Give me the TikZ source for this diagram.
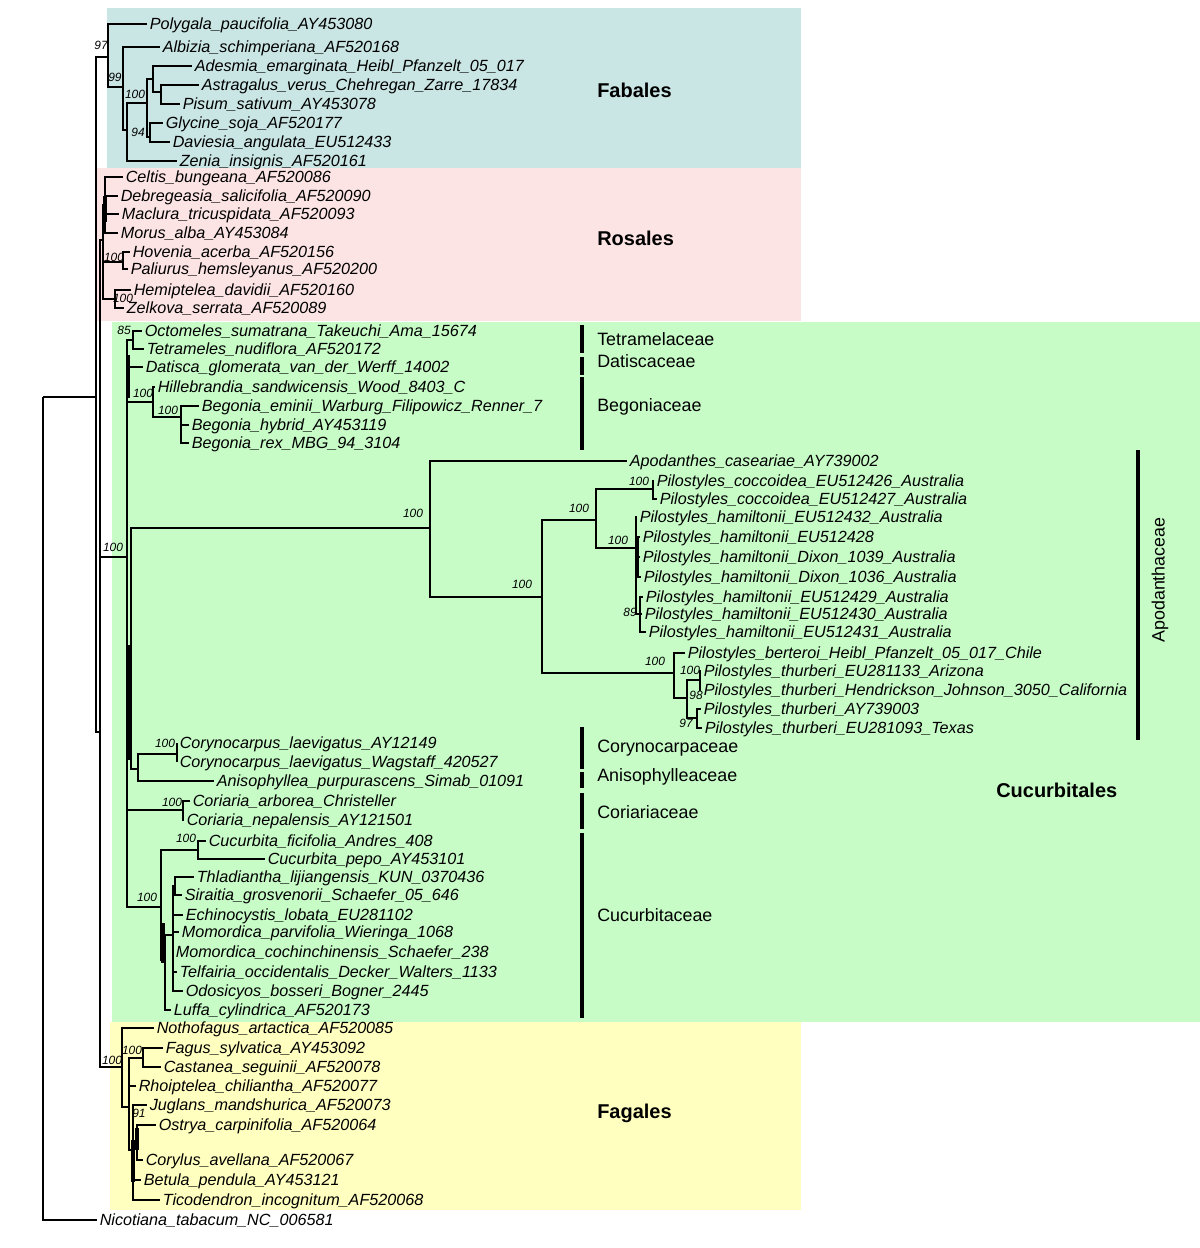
\documentclass[tikz,border=0pt]{standalone}
\usepackage{fontspec}
\setmainfont{Liberation Sans}
\usepackage{tikz}
\definecolor{fabcol}{RGB}{201,229,228}
\definecolor{roscol}{RGB}{253,228,228}
\definecolor{cuccol}{RGB}{199,252,199}
\definecolor{fagcol}{RGB}{255,255,191}
\tikzset{
  branch/.style={line width=1.6pt},
  taxon/.style={anchor=west, inner xsep=0pt, inner ysep=0pt, outer xsep=2pt,
                text height=8pt, text depth=0pt,
                font=\fontsize{11.5}{13}\selectfont\itshape},
  support/.style={inner sep=0pt, font=\fontsize{8.5}{10}\selectfont\itshape},
  family/.style={anchor=west, inner sep=0pt, font=\fontsize{12.7}{15}\selectfont},
  order/.style={anchor=west, inner sep=0pt, font=\fontsize{14.2}{17}\selectfont\bfseries},
  famline/.style={line width=3.2pt},
  zeroline/.style={line width=3pt},
}

\begin{document}
\begin{tikzpicture}[x=0.025cm, y=-0.025cm]
  \useasboundingbox (0,0) rectangle (1200,1248);
  % order backgrounds
  \fill[fabcol] (107,8) rectangle (801,168);
  \fill[roscol] (97,168) rectangle (801,321);
  \fill[cuccol] (112,322) rectangle (1200,1022);
  \fill[fagcol] (110,1022) rectangle (801,1210);
  % internal nodes of the tree
  \foreach \nm/\x/\y in {nRoot/43/397, nA/96/397, nB/100/732,
      nFab/108/57, n99/123/87, nZ/127/130, nLeg/147/103, nAde/153/79,
      nAst/161/92, nGly/150/137,
      nRos/103/240, nUrt/105/205, nRha/123/262, nUlm/115/299,
      nCuc/127/557, nTet/133/340, nBeg/153/402, nBgn/181/417,
      nQ/131/650, nApo/430/528, nPil/542/597, nPa/596/520, nCoc/653/489,
      nHam/636/548, nH89/640/614, nPb/674/673, nThu/687/698, nTa/700/680,
      nTb/697/718, nCA/138/769, nCory/177/754, nCori/183/810,
      nCucu/161/907, nCpo/198/850, nCx/165/960, nCy/173/935, nTS/175/886,
      nFag/122/1067, nJ/129/1107, nFC/143/1058, nJB/133/1150, nOC/137/1142}
    \coordinate (\nm) at (\x,\y);
  % Fabales
  \foreach \nm/\x/\y/\txt in {
      polygala/147/24/Polygala\_paucifolia\_AY453080,
      albizia/160/47/Albizia\_schimperiana\_AF520168,
      adesmia/192/66/Adesmia\_emarginata\_Heibl\_Pfanzelt\_05\_017,
      astragalus/199/85/Astragalus\_verus\_Chehregan\_Zarre\_17834,
      pisum/180/104/Pisum\_sativum\_AY453078,
      glycine/163/123/Glycine\_soja\_AF520177,
      daviesia/170/142/Daviesia\_angulata\_EU512433,
      zenia/177/161/Zenia\_insignis\_AF520161}
    \node[taxon] (\nm) at (\x,\y) {\txt};
  % Rosales
  \foreach \nm/\x/\y/\txt in {
      celtis/123/177/Celtis\_bungeana\_AF520086,
      debregeasia/118/196/Debregeasia\_salicifolia\_AF520090,
      maclura/119/214/Maclura\_tricuspidata\_AF520093,
      morus/118/233/Morus\_alba\_AY453084,
      hovenia/130/252/Hovenia\_acerba\_AF520156,
      paliurus/128/269/Paliurus\_hemsleyanus\_AF520200,
      hemiptelea/131/290/Hemiptelea\_davidii\_AF520160,
      zelkova/124/308/Zelkova\_serrata\_AF520089}
    \node[taxon] (\nm) at (\x,\y) {\txt};
  % Cucurbitales
  \foreach \nm/\x/\y/\txt in {
      octomeles/142/331/Octomeles\_sumatrana\_Takeuchi\_Ama\_15674,
      tetrameles/144/349/Tetrameles\_nudiflora\_AF520172,
      datisca/143/367/Datisca\_glomerata\_van\_der\_Werff\_14002,
      hillebrandia/155/387/Hillebrandia\_sandwicensis\_Wood\_8403\_C,
      eminii/199/406/Begonia\_eminii\_Warburg\_Filipowicz\_Renner\_7,
      hybrid/189/425/Begonia\_hybrid\_AY453119,
      rex/189/443/Begonia\_rex\_MBG\_94\_3104,
      apodanthes/627/461/Apodanthes\_caseariae\_AY739002,
      coca/654/481/Pilostyles\_coccoidea\_EU512426\_Australia,
      cocb/657/499/Pilostyles\_coccoidea\_EU512427\_Australia,
      hama/637/517/Pilostyles\_hamiltonii\_EU512432\_Australia,
      hamb/640/537/Pilostyles\_hamiltonii\_EU512428,
      hamc/640/557/Pilostyles\_hamiltonii\_Dixon\_1039\_Australia,
      hamd/641/577/Pilostyles\_hamiltonii\_Dixon\_1036\_Australia,
      hame/643/597/Pilostyles\_hamiltonii\_EU512429\_Australia,
      hamf/642/614/Pilostyles\_hamiltonii\_EU512430\_Australia,
      hamg/646/632/Pilostyles\_hamiltonii\_EU512431\_Australia,
      berteroi/685/653/Pilostyles\_berteroi\_Heibl\_Pfanzelt\_05\_017\_Chile,
      thua/701/671/Pilostyles\_thurberi\_EU281133\_Arizona,
      thub/701/690/Pilostyles\_thurberi\_Hendrickson\_Johnson\_3050\_California,
      thuc/701/709/Pilostyles\_thurberi\_AY739003,
      thud/702/728/Pilostyles\_thurberi\_EU281093\_Texas,
      corya/177/743/Corynocarpus\_laevigatus\_AY12149,
      coryb/177/762/Corynocarpus\_laevigatus\_Wagstaff\_420527,
      aniso/214/781/Anisophyllea\_purpurascens\_Simab\_01091,
      coria/190/801/Coriaria\_arborea\_Christeller,
      corib/184/820/Coriaria\_nepalensis\_AY121501,
      ficifolia/206/841/Cucurbita\_ficifolia\_Andres\_408,
      pepo/265/859/Cucurbita\_pepo\_AY453101,
      thladiantha/194/877/Thladiantha\_lijiangensis\_KUN\_0370436,
      siraitia/182/895/Siraitia\_grosvenorii\_Schaefer\_05\_646,
      echino/183/915/Echinocystis\_lobata\_EU281102,
      mparv/179/932/Momordica\_parvifolia\_Wieringa\_1068,
      mcoch/173/952/Momordica\_cochinchinensis\_Schaefer\_238,
      telfairia/177/972/Telfairia\_occidentalis\_Decker\_Walters\_1133,
      odosicyos/183/991/Odosicyos\_bosseri\_Bogner\_2445,
      luffa/171/1010/Luffa\_cylindrica\_AF520173}
    \node[taxon] (\nm) at (\x,\y) {\txt};
  % Fagales and outgroup
  \foreach \nm/\x/\y/\txt in {
      nothofagus/154/1028/Nothofagus\_artactica\_AF520085,
      fagus/163/1048/Fagus\_sylvatica\_AY453092,
      castanea/161/1067/Castanea\_seguinii\_AF520078,
      rhoiptelea/136/1086/Rhoiptelea\_chiliantha\_AF520077,
      juglans/147/1105/Juglans\_mandshurica\_AF520073,
      ostrya/156/1125/Ostrya\_carpinifolia\_AF520064,
      corylus/143/1160/Corylus\_avellana\_AF520067,
      betula/141/1180/Betula\_pendula\_AY453121,
      ticodendron/160/1200/Ticodendron\_incognitum\_AF520068,
      nicotiana/97/1220/Nicotiana\_tabacum\_NC\_006581}
    \node[taxon] (\nm) at (\x,\y) {\txt};
  % branches between internal nodes
  \foreach \p/\c in {nRoot/nA, nA/nFab, nA/nB, nB/nRos, nB/nCuc, nB/nFag,
      nFab/n99, n99/nZ, nZ/nLeg, nLeg/nAde, nAde/nAst, nLeg/nGly,
      nRos/nUrt, nRos/nRha, nRos/nUlm,
      nCuc/nTet, nCuc/nBeg, nBeg/nBgn, nCuc/nQ, nQ/nApo, nApo/nPil,
      nPil/nPa, nPa/nCoc, nPa/nHam, nHam/nH89, nPil/nPb, nPb/nThu,
      nThu/nTa, nThu/nTb, nQ/nCA, nCA/nCory, nCuc/nCori, nCuc/nCucu,
      nCucu/nCpo, nCucu/nCx, nCx/nCy, nCy/nTS,
      nFag/nJ, nJ/nFC, nJ/nJB, nJB/nOC}
    \draw[branch] (\p) |- (\c);
  % terminal branches
  \foreach \p/\c in {nRoot/nicotiana,
      nFab/polygala, n99/albizia, nZ/zenia, nAde/adesmia, nAst/astragalus,
      nAst/pisum, nGly/glycine, nGly/daviesia,
      nUrt/celtis, nUrt/debregeasia, nUrt/maclura, nUrt/morus,
      nRha/hovenia, nRha/paliurus, nUlm/hemiptelea, nUlm/zelkova,
      nTet/octomeles, nTet/tetrameles, nCuc/datisca, nBeg/hillebrandia,
      nBgn/eminii, nBgn/hybrid, nBgn/rex,
      nApo/apodanthes, nCoc/coca, nCoc/cocb, nHam/hama, nHam/hamb,
      nHam/hamc, nHam/hamd, nH89/hame, nH89/hamf, nH89/hamg,
      nPb/berteroi, nTa/thua, nTa/thub, nTb/thuc, nTb/thud,
      nCory/corya, nCory/coryb, nCA/aniso, nCori/coria, nCori/corib,
      nCpo/ficifolia, nCpo/pepo, nTS/thladiantha, nTS/siraitia,
      nCy/echino, nCy/mparv, nCy/mcoch, nCy/telfairia, nCy/odosicyos,
      nCx/luffa,
      nFag/nothofagus, nFC/fagus, nFC/castanea, nJ/rhoiptelea,
      nJB/juglans, nOC/ostrya, nOC/corylus, nJB/betula, nJB/ticodendron}
    \draw[branch] (\p) |- (\c.west);
  % very short branches drawn as thick strokes
  \foreach \xz/\ya/\yb in {105/196/222, 128/355/398, 129/645/760,
      637/537/577, 163/923/963, 133/1140/1182, 137/1128/1150}
    \draw[zeroline] (\xz,\ya) -- (\xz,\yb);
  % bootstrap values
  \foreach \nm/\x/\y/\v in {sFab/101/45/97, s99/115/77/99, sLeg/135/94/100,
      sGly/138/132/94, sRha/114/257/100, sUlm/123/298/100,
      sCuc/113/547/100, sTet/124/330/85, sBeg/143/393/100, sBgn/168/410/100,
      sApo/413/513/100, sPil/522/584/100, sPa/579/508/100, sCoc/639/481/100,
      sHam/618/540/100, sH89/630/612/89, sPb/655/661/100, sTa/690/670/100,
      sThu/696/695/98, sTb/686/723/97, sCory/165/743/100, sCori/172/802/100,
      sCpo/186/838/100, sCucu/147/897/100,
      sFag/112/1060/100, sFC/132/1050/100, sJB/139/1113/91}
    \node[support] (\nm) at (\x,\y) {\v};
  % family bars
  \foreach \xb/\ya/\yb in {582/325/353, 582/357/375, 582/377/450,
      582/727/769, 582/772/788, 582/793/829, 582/833/1018, 1138/450/740}
    \draw[famline] (\xb,\ya) -- (\xb,\yb);
  % family and order labels
  \node[family] (tetramelaceae) at (597,339) {Tetramelaceae};
  \node[family] (datiscaceae) at (597,361) {Datiscaceae};
  \node[family] (begoniaceae) at (597,407) {Begoniaceae};
  \node[family] (corynocarpaceae) at (597,748) {Corynocarpaceae};
  \node[family] (anisophylleaceae) at (597,777) {Anisophylleaceae};
  \node[family] (coriariaceae) at (597,812) {Coriariaceae};
  \node[family] (cucurbitaceae) at (597,915) {Cucurbitaceae};
  \node[family, anchor=center, rotate=90] (apodanthaceae) at (1160,580) {Apodanthaceae};
  \node[order] (fabales) at (597,90) {Fabales};
  \node[order] (rosales) at (597,238) {Rosales};
  \node[order] (cucurbitales) at (996,790) {Cucurbitales};
  \node[order] (fagales) at (597,1113) {Fagales};
\end{tikzpicture}
\end{document}
